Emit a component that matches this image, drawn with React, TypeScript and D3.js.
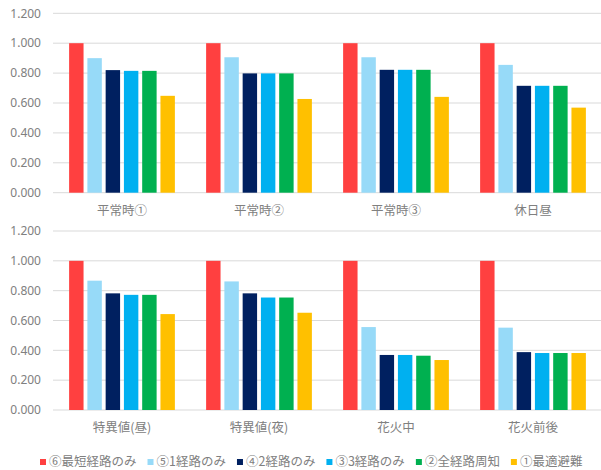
import React, { useEffect, useRef } from "react";
import * as d3 from "d3";

// Evacuation efficiency ratios by scenario and routing strategy
const series = ["⑥最短経路のみ", "⑤1経路のみ", "④2経路のみ", "③3経路のみ", "②全経路周知", "①最適避難"];
const colors = ["#FF4040", "#97DAF8", "#002060", "#00B0F0", "#00B050", "#FFC000"];

const topCategories = ["平常時①", "平常時②", "平常時③", "休日昼"];
const bottomCategories = ["特異値(昼)", "特異値(夜)", "花火中", "花火前後"];

// values[category][series]
const topValues = [
  [1.0, 0.9, 0.82, 0.815, 0.815, 0.648],
  [1.0, 0.906, 0.798, 0.798, 0.798, 0.627],
  [1.0, 0.906, 0.822, 0.822, 0.822, 0.641],
  [1.0, 0.855, 0.715, 0.715, 0.715, 0.569],
];
const bottomValues = [
  [1.0, 0.867, 0.782, 0.772, 0.772, 0.643],
  [1.0, 0.862, 0.782, 0.754, 0.754, 0.652],
  [1.0, 0.556, 0.369, 0.369, 0.364, 0.335],
  [1.0, 0.552, 0.388, 0.382, 0.382, 0.382],
];

const yTicks = [0, 0.2, 0.4, 0.6, 0.8, 1.0, 1.2];

const W = 601;
const H = 470;
const FONT = "'Noto Sans CJK JP', 'Noto Sans', sans-serif";
const NUM_FONT = "'Noto Sans', sans-serif";
const TEXT = "#808080";
const GRID = "#d9d9d9";

export default function App() {
  const ref = useRef<SVGSVGElement | null>(null);

  useEffect(() => {
    const svg = d3.select(ref.current);
    svg.selectAll("*").remove();

    const x0 = d3.scaleBand<string>().range([53.5, 601.5]).paddingInner(0.2).paddingOuter(0.1);
    const x1 = d3.scaleBand<string>().domain(series).paddingInner(0.21).paddingOuter(0.105);

    const panels = [
      { cats: topCategories, vals: topValues, y0: 192.7, y1: 13.3 },
      { cats: bottomCategories, vals: bottomValues, y0: 410, y1: 231 },
    ];

    panels.forEach((p) => {
      const xs = x0.copy().domain(p.cats);
      const xi = x1.copy().range([0, xs.bandwidth()]);
      const y = d3.scaleLinear().domain([0, 1.2]).range([p.y0, p.y1]);
      const g = svg.append("g");

      g.selectAll("line.grid")
        .data(yTicks)
        .join("line")
        .attr("x1", 53)
        .attr("x2", W)
        .attr("y1", (d) => y(d))
        .attr("y2", (d) => y(d))
        .attr("stroke", GRID)
        .attr("stroke-width", 1);

      g.selectAll("text.ytick")
        .data(yTicks)
        .join("text")
        .attr("x", 41)
        .attr("y", (d) => y(d))
        .attr("dy", "0.35em")
        .attr("text-anchor", "end")
        .attr("font-family", NUM_FONT)
        .attr("font-size", 12)
        .attr("fill", TEXT)
        .text((d) => d3.format(".3f")(d));

      p.cats.forEach((c, ci) => {
        const gg = g.append("g").attr("transform", `translate(${xs(c)},0)`);
        gg.selectAll("rect")
          .data(p.vals[ci])
          .join("rect")
          .attr("x", (_, i) => xi(series[i])!)
          .attr("width", xi.bandwidth())
          .attr("y", (d) => y(d))
          .attr("height", (d) => y(0) - y(d))
          .attr("fill", (_, i) => colors[i]);
        g.append("text")
          .attr("x", xs(c)! + xs.bandwidth() / 2)
          .attr("y", p.y0 + 18)
          .attr("dy", "0.35em")
          .attr("text-anchor", "middle")
          .attr("font-family", FONT)
          .attr("font-size", 12.5)
          .attr("fill", TEXT)
          .text(c);
      });
    });

    // legend laid out left to right from measured label widths
    const lg = svg.append("g");
    let cx = 40;
    const ly = 462;
    series.forEach((s, i) => {
      lg.append("rect")
        .attr("x", cx)
        .attr("y", ly - 3)
        .attr("width", 6)
        .attr("height", 6)
        .attr("fill", colors[i]);
      const t = lg
        .append("text")
        .attr("x", cx + 9)
        .attr("y", ly)
        .attr("dy", "0.35em")
        .attr("font-family", FONT)
        .attr("font-size", 12.5)
        .attr("fill", TEXT)
        .text(s);
      const w = (t.node() as SVGTextElement).getComputedTextLength();
      cx += 9 + w + 11;
    });
  }, []);

  return (
    <svg
      ref={ref}
      width={W}
      height={H}
      style={{ position: "absolute", left: 0, top: 0, background: "#fff" }}
    />
  );
}
